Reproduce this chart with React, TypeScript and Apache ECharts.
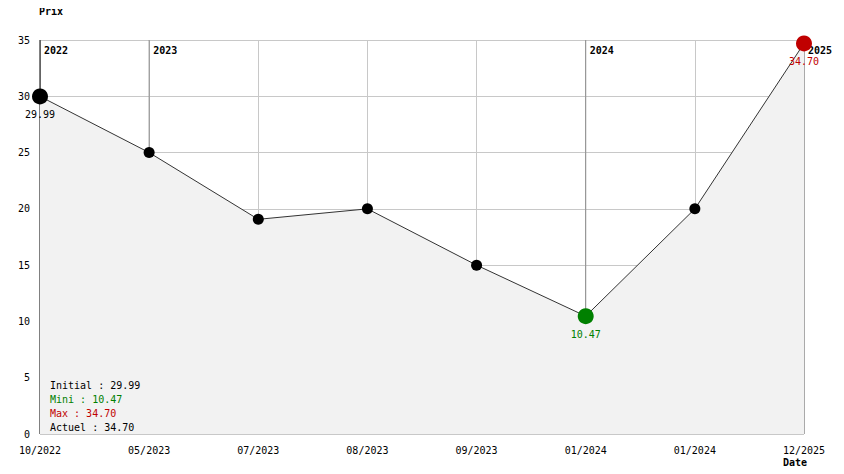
import React, { useEffect, useRef } from "react";
import * as echarts from "echarts";

const categories = ["10/2022", "05/2023", "07/2023", "08/2023", "09/2023", "01/2024", "01/2024", "12/2025"];
const prices = [29.99, 25.0, 19.07, 20.0, 15.0, 10.47, 20.0, 34.7];
const yearMarkIndex = [0, 1, 5, 7];
const yearMarkLabel = ["2022", "2023", "2024", "2025"];
const yTicks = { min: 0, max: 35, interval: 5 };

const FONT = "DejaVu Sans Mono";
const GREEN = "#008000";
const RED = "#c00000";

export default function App() {
  const ref = useRef<HTMLDivElement>(null);
  useEffect(() => {
    if (!ref.current) return;
    const chart = echarts.init(ref.current, undefined, { renderer: "svg" });
    let minI = 0, maxI = 0;
    prices.forEach((v, i) => {
      if (v < prices[minI]) minI = i;
      if (v > prices[maxI]) maxI = i;
    });
    const lastI = prices.length - 1;
    const fmt = (v: number) => v.toFixed(2);

    const lineData = prices.map((v, i) => {
      let color = "#000";
      let size = 11;
      let show = false;
      if (i === 0) { size = 16; show = true; }
      if (i === minI) { color = GREEN; size = 16; show = true; }
      if (i === maxI) { color = RED; size = 16; show = true; }
      return {
        value: v,
        symbolSize: size,
        itemStyle: { color },
        label: {
          show,
          position: "bottom",
          distance: 5,
          color: i === 0 ? "#000" : color,
          fontFamily: FONT,
          fontSize: 10,
          formatter: (p: any) => fmt(p.value),
        },
      };
    });

    const option: any = {
      animation: false,
      grid: { left: 40, right: 40, top: 40, bottom: 40 },
      xAxis: {
        type: "category",
        data: categories,
        boundaryGap: false,
        axisLine: { show: false },
        axisTick: { show: false },
        axisLabel: { color: "#000", fontFamily: FONT, fontSize: 10, margin: 11, interval: 0 },
        splitLine: { show: true, lineStyle: { color: "#c8c8c8", width: 1 } },
      },
      yAxis: {
        type: "value",
        min: yTicks.min,
        max: yTicks.max,
        interval: yTicks.interval,
        axisLine: { show: false },
        axisTick: { show: false },
        axisLabel: { color: "#000", fontFamily: FONT, fontSize: 10, margin: 10 },
        splitLine: { show: true, lineStyle: { color: "#c8c8c8", width: 1 } },
      },
      series: [
        {
          type: "custom",
          z: 1,
          silent: true,
          data: yearMarkIndex.map((idx, k) => [idx, yearMarkLabel[k]]),
          renderItem: (params: any, api: any) => {
            const idx = api.value(0);
            const label = yearMarkLabel[params.dataIndex];
            const top = api.coord([idx, yTicks.max]);
            const bot = api.coord([idx, yTicks.min]);
            return {
              type: "group",
              children: [
                {
                  type: "line",
                  shape: { x1: top[0], y1: top[1], x2: bot[0], y2: bot[1] },
                  style: { stroke: params.dataIndex === 0 ? "#000" : "#8c8c8c", lineWidth: 1 },
                },
                {
                  type: "text",
                  x: top[0] + 4,
                  y: top[1] + 5,
                  style: {
                    text: label,
                    fill: "#000",
                    font: `bold 10px ${FONT}`,
                    textAlign: "left",
                    textVerticalAlign: "top",
                  },
                  z2: 100,
                },
              ],
            };
          },
        },
        {
          type: "line",
          z: 2,
          data: lineData,
          symbol: "circle",
          lineStyle: { color: "#333", width: 1 },
          areaStyle: { color: "#f2f2f2", opacity: 1 },
        },
      ],
      graphic: [
        {
          type: "text",
          left: 39,
          top: 6,
          style: { text: "Prix", fill: "#000", font: `bold 10px ${FONT}` },
        },
        {
          type: "text",
          left: 783,
          top: 457,
          style: { text: "Date", fill: "#000", font: `bold 10px ${FONT}` },
        },
        {
          type: "text",
          left: 50,
          top: 378,
          z: 100,
          style: {
            text: `{a|Initial : ${fmt(prices[0])}}\n{g|Mini : ${fmt(prices[minI])}}\n{r|Max : ${fmt(prices[maxI])}}\n{a|Actuel : ${fmt(prices[lastI])}}`,
            font: `10px ${FONT}`,
            lineHeight: 14,
            rich: {
              a: { fill: "#000", fontFamily: FONT, fontSize: 10, lineHeight: 14 },
              g: { fill: GREEN, fontFamily: FONT, fontSize: 10, lineHeight: 14 },
              r: { fill: RED, fontFamily: FONT, fontSize: 10, lineHeight: 14 },
            },
          },
        },
      ],
    };
    chart.setOption(option);
    return () => chart.dispose();
  }, []);
  return <div ref={ref} style={{ width: 844, height: 474, margin: -8 }} />;
}
